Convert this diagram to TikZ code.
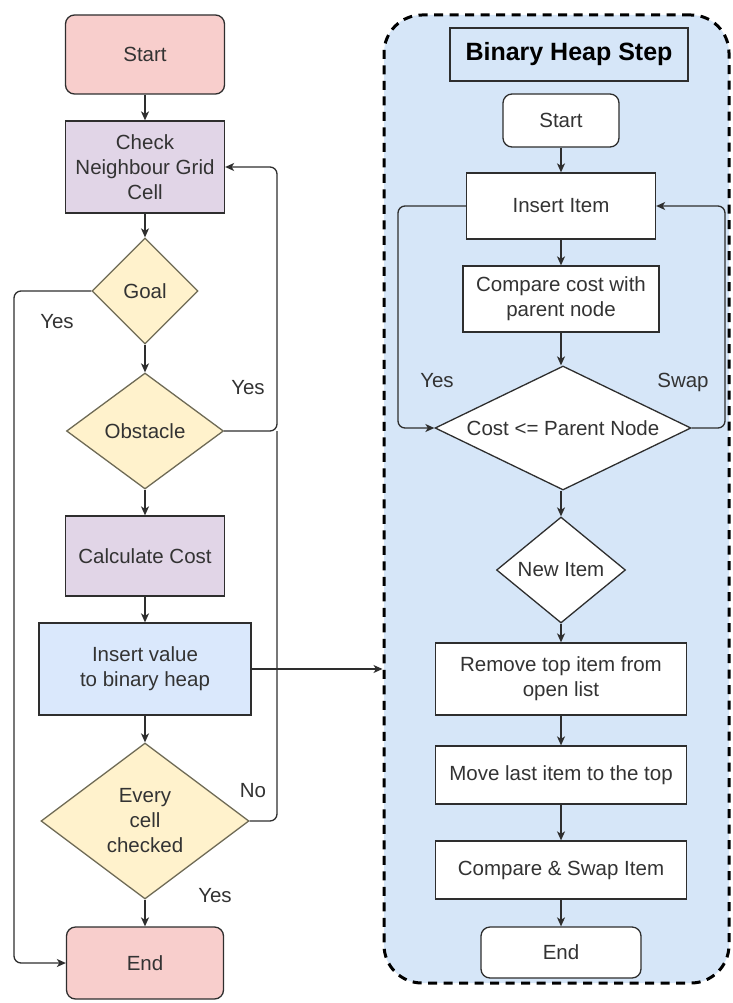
\documentclass[tikz,border=0pt]{standalone}
\usepackage{fontspec}
\setmainfont{Liberation Sans}
\usetikzlibrary{shapes.geometric,arrows.meta}
\definecolor{txt}{HTML}{333333}
\definecolor{edge}{HTML}{2E2E2E}
\definecolor{redfill}{HTML}{F8CECC}
\definecolor{purplefill}{HTML}{E1D5E7}
\definecolor{yellowfill}{HTML}{FFF2CC}
\definecolor{yellowedge}{HTML}{6E6A55}
\definecolor{bluefill}{HTML}{DAE8FC}
\definecolor{groupfill}{HTML}{D6E6F8}
\tikzset{
  base/.style={draw=edge, line width=1.3pt, inner sep=0pt, text=txt,
    font=\fontsize{20.5}{25}\selectfont, align=center},
  procbox/.style={base, rectangle},
  termbox/.style={base, rectangle, rounded corners=9pt},
  decision/.style={base, diamond, draw=yellowedge, fill=yellowfill},
  wdecision/.style={base, diamond},
  conn/.style={draw=edge, line width=1.3pt, rounded corners=7pt,
    -{Stealth[length=9pt,width=8pt,inset=2.5pt]}},
  plainconn/.style={draw=edge, line width=1.3pt, rounded corners=7pt},
  lbl/.style={text=txt, font=\fontsize{20.5}{25}\selectfont}
}
\begin{document}
\begin{tikzpicture}[x=1pt,y=-1pt]
\useasboundingbox (0,0) rectangle (732,1003);

% ---------- binary heap group (background) ----------
\node (grp) [draw=black, fill=groupfill, line width=3pt, dash pattern=on 9pt off 6.5pt,
  rounded corners=38pt, minimum width=345pt, minimum height=968pt, inner sep=0pt]
  at (556.5,499) {};

% ---------- main flow ----------
\node (lstart) [termbox, fill=redfill, minimum width=159pt, minimum height=79pt] at (145,54.5) {Start};
\node (check) [procbox, fill=purplefill, minimum width=159pt, minimum height=92pt] at (145,167) {Check\\Neighbour Grid\\Cell};
\node (goal) [decision, minimum width=106pt, minimum height=106pt, aspect=1] at (145,291) {Goal};
\node (obst) [decision, minimum width=157pt, minimum height=116pt, aspect=1.35] at (145,431) {Obstacle};
\node (calc) [procbox, fill=purplefill, minimum width=159pt, minimum height=80pt] at (145,556) {Calculate Cost};
\node (ins) [procbox, fill=bluefill, minimum width=212pt, minimum height=92pt] at (145,669) {Insert value\\to binary heap};
\node (every) [decision, minimum width=208pt, minimum height=156pt, aspect=1.33] at (145,821) {Every\\cell\\checked};
\node (lend) [termbox, fill=redfill, minimum width=157pt, minimum height=72pt] at (145,963) {End};

\coordinate (lrail) at (14,0);
\coordinate (rrail) at (277,0);

\draw[conn] (lstart) -- (check);
\draw[conn] (check) -- (goal);
\draw[conn] (goal) -- (obst);
\draw[conn] (obst) -- (calc);
\draw[conn] (calc) -- (ins);
\draw[conn] (ins) -- (every);
\draw[conn] (every) -- (lend);

\draw[conn] (goal.west) -- (goal.west -| lrail) -- (lrail |- lend.west) -- (lend.west);
\draw[conn] (obst.east) -- (obst.east -| rrail) -- (rrail |- check.east) -- (check.east);
\draw[plainconn] (every.east) -- (every.east -| rrail) -- (rrail |- obst.east);
\draw[conn] (ins.east) -- (ins.east -| grp.west);

\node (lyes1) [lbl] at (57,322) {Yes};
\node (lyes2) [lbl] at (248,388) {Yes};
\node (lno) [lbl] at (253,791) {No};
\node (lyes3) [lbl] at (215,896) {Yes};

% ---------- binary heap step ----------
\node (title) [draw=edge, line width=1.3pt, inner sep=0pt, text=black,
  font=\bfseries\fontsize{25}{30}\selectfont, minimum width=238pt, minimum height=53pt] at (569,54.5) {Binary Heap Step};
\node (rstart) [termbox, fill=white, minimum width=116pt, minimum height=53pt] at (561,120.5) {Start};
\node (item) [procbox, fill=white, minimum width=189pt, minimum height=66pt] at (561,206) {Insert Item};
\node (cmp) [procbox, fill=white, minimum width=196pt, minimum height=66pt] at (561,299) {Compare cost with\\parent node};
\node (costd) [wdecision, fill=white, minimum width=256pt, minimum height=124pt, aspect=2.06] at (563,428) {Cost <= Parent Node};
\node (newd) [wdecision, fill=white, minimum width=129pt, minimum height=106pt, aspect=1.2] at (561,570) {New Item};
\node (rem) [procbox, fill=white, minimum width=251pt, minimum height=72pt] at (561,679) {Remove top item from\\open list};
\node (mov) [procbox, fill=white, minimum width=251pt, minimum height=58pt] at (561,775) {Move last item to the top};
\node (cas) [procbox, fill=white, minimum width=251pt, minimum height=58pt] at (561,870) {Compare \& Swap Item};
\node (rend) [termbox, fill=white, minimum width=160pt, minimum height=51pt] at (561,952.5) {End};

\coordinate (yrail) at (398,0);
\coordinate (srail) at (725,0);

\draw[conn] (rstart) -- (item);
\draw[conn] (item) -- (cmp);
\draw[conn] (cmp.south) -- (cmp.south |- costd.north);
\draw[conn] (costd.south -| newd.north) -- (newd.north);
\draw[conn] (newd) -- (rem);
\draw[conn] (rem) -- (mov);
\draw[conn] (mov) -- (cas);
\draw[conn] (cas) -- (rend);

\draw[conn] (item.west) -- (item.west -| yrail) -- (yrail |- costd.west) -- (costd.west);
\draw[conn] (costd.east) -- (costd.east -| srail) -- (srail |- item.east) -- (item.east);

\node (ryes) [lbl] at (437,381) {Yes};
\node (rswap) [lbl] at (683,382) {Swap};
\end{tikzpicture}
\end{document}
